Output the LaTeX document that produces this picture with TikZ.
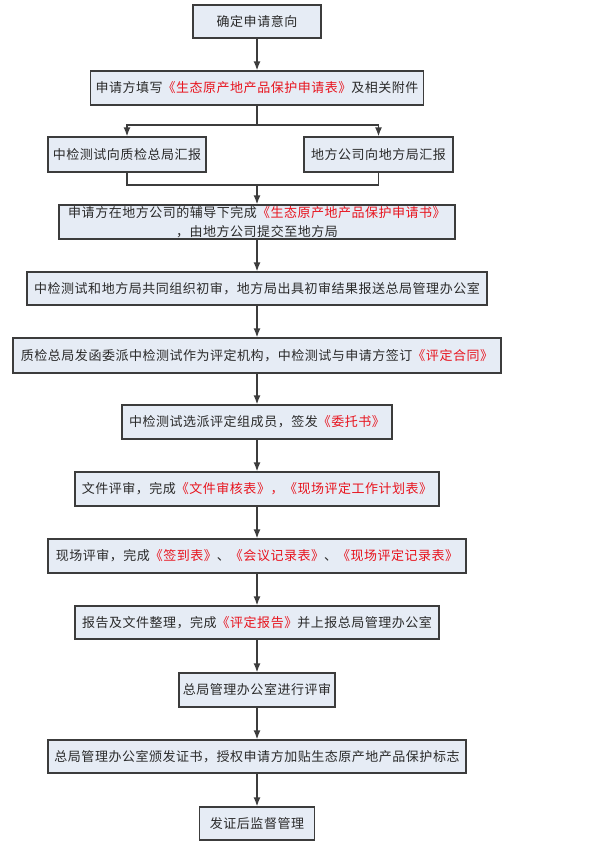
\documentclass[tikz,border=0pt]{standalone}
\usepackage{fontspec}
\setmainfont{Noto Sans CJK SC}[LetterSpace=4]
\usetikzlibrary{arrows.meta}
\definecolor{boxfill}{HTML}{E6ECF5}
\definecolor{boxline}{HTML}{3C3C3C}
\definecolor{redtxt}{HTML}{E8141E}
\definecolor{txt}{HTML}{2A2A2A}
\newcommand{\rt}[1]{\textcolor{redtxt}{#1}}
\tikzset{
  stepbox/.style={draw=boxline, line width=1.3pt, fill=boxfill, inner sep=0pt,
    text=txt, font=\fontsize{13}{19}\selectfont, align=center},
  conn/.style={draw=boxline, line width=1.4pt},
  arr/.style={conn, -{Latex[length=9pt,width=7pt]}}
}
\begin{document}
\begin{tikzpicture}[x=1pt,y=-1pt]
\useasboundingbox (0,0) rectangle (598,853);
\fill[white] (0,0) rectangle (598,853);
\node[stepbox, minimum width=128pt, minimum height=33pt] (b1) at (257,21.5) {确定申请意向};
\node[stepbox, minimum width=333pt, minimum height=34pt] (b2) at (257,88) {申请方填写\rt{《生态原产地产品保护申请表》}及相关附件};
\node[stepbox, minimum width=158pt, minimum height=35pt] (b3l) at (127,154.5) {中检测试向质检总局汇报};
\node[stepbox, minimum width=149pt, minimum height=35pt] (b3r) at (378.5,154.5) {地方公司向地方局汇报};
\node[stepbox, minimum width=396pt, minimum height=34pt] (b4) at (257,222) {申请方在地方公司的辅导下完成\rt{《生态原产地产品保护申请书》}\\，由地方公司提交至地方局};
\node[stepbox, minimum width=460pt, minimum height=33pt] (b5) at (257,288.5) {中检测试和地方局共同组织初审，地方局出具初审结果报送总局管理办公室};
\node[stepbox, minimum width=488pt, minimum height=35pt] (b6) at (257,355.5) {质检总局发函委派中检测试作为评定机构，中检测试与申请方签订\rt{《评定合同》}};
\node[stepbox, minimum width=270pt, minimum height=34pt] (b7) at (257,422) {中检测试选派评定组成员，签发\rt{《委托书》}};
\node[stepbox, minimum width=364pt, minimum height=34pt] (b8) at (257,489) {文件评审，完成\rt{《文件审核表》，《现场评定工作计划表》}};
\node[stepbox, minimum width=418pt, minimum height=34pt] (b9) at (257,556) {现场评审，完成\rt{《签到表》}、\rt{《会议记录表》}、\rt{《现场评定记录表》}};
\node[stepbox, minimum width=364pt, minimum height=33pt] (b10) at (257,622.5) {报告及文件整理，完成\rt{《评定报告》}并上报总局管理办公室};
\node[stepbox, minimum width=156pt, minimum height=34pt] (b11) at (257,690) {总局管理办公室进行评审};
\node[stepbox, minimum width=418pt, minimum height=33pt] (b12) at (257,756.5) {总局管理办公室颁发证书，授权申请方加贴生态原产地产品保护标志};
\node[stepbox, minimum width=115pt, minimum height=33pt] (b13) at (257,823.5) {发证后监督管理};
\coordinate (split) at (257,125);
\coordinate (merge) at (257,185);
\draw[arr] (b1) -- (b2);
\draw[conn] (b2) -- (split);
\draw[arr] (split) -| (b3l);
\draw[arr] (split) -| (b3r);
\draw[conn] (b3l) |- (merge);
\draw[conn] (b3r) |- (merge);
\draw[arr] (merge) -- (b4);
\draw[arr] (b4) -- (b5);
\draw[arr] (b5) -- (b6);
\draw[arr] (b6) -- (b7);
\draw[arr] (b7) -- (b8);
\draw[arr] (b8) -- (b9);
\draw[arr] (b9) -- (b10);
\draw[arr] (b10) -- (b11);
\draw[arr] (b11) -- (b12);
\draw[arr] (b12) -- (b13);
\end{tikzpicture}
\end{document}
